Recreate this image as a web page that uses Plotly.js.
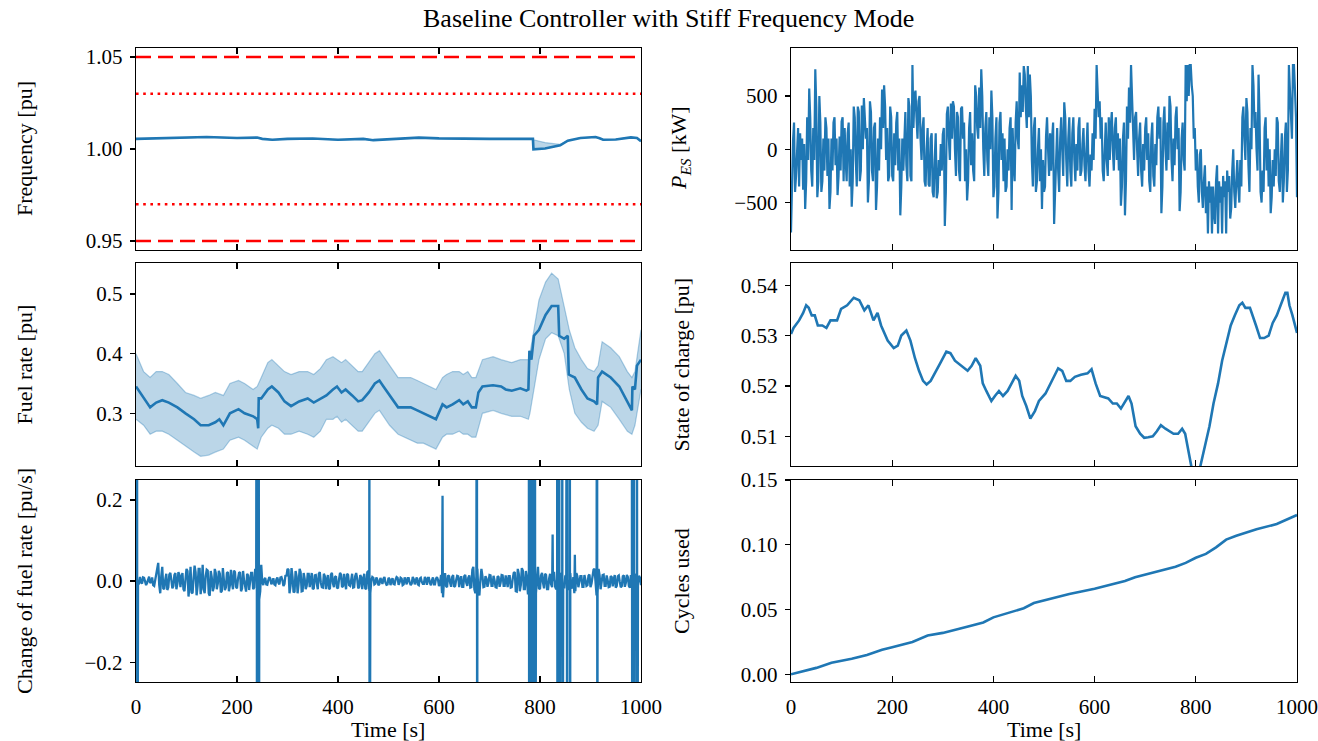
<!DOCTYPE html>
<html><head><meta charset="utf-8">
<script src="https://cdn.plot.ly/plotly-3.0.1.min.js"></script>
<style>html,body{margin:0;padding:0;background:#fff;} #chart{width:1318px;height:741px;}</style>
</head><body><div id="chart"></div>
<script>
// ---------------- DATA ----------------
// Frequency [pu]
const freqT = [0,50,100,140,200,240,250,270,300,350,400,450,470,520,560,600,650,700,750,780,786,787,810,840,855,880,910,918,925,950,980,992,1000];
const freqVal = [1.0055,1.0058,1.006,1.0065,1.006,1.0062,1.0055,1.005,1.0055,1.0057,1.005,1.0055,1.0048,1.0058,1.0062,1.0058,1.0055,1.0055,1.0055,1.0056,1.0055,0.9998,1.0003,1.002,1.0045,1.006,1.0065,1.0058,1.005,1.0052,1.0063,1.006,1.0042];
const freqBandHi = [1.0055,1.0058,1.006,1.0065,1.006,1.0062,1.0055,1.005,1.0055,1.0057,1.005,1.0055,1.0048,1.0058,1.0062,1.0058,1.0055,1.0055,1.0055,1.0056,1.0055,1.005,1.0035,1.0025,1.0045,1.006,1.0065,1.0058,1.005,1.0052,1.0063,1.006,1.0042];
const freqLimits = [0.95, 1.05];      // dashed
const freqSoftLimits = [0.97, 1.03];  // dotted

// P_ES [kW]: samples at t = 0,4,8,...,1000 and in-between samples at t = 2,6,...,998
const pesStep = 4;
const pesVal = [
-780,80,-400,60,-350,-100,-380,-560,300,570,-200,200,750,-450,500,-400,100,300,-250,-560,
100,250,-150,-430,120,260,-300,-100,150,-350,-540,400,-100,400,-300,410,480,100,-500,450,
-200,200,-570,100,300,560,600,-100,-300,400,-250,150,250,-200,-620,100,200,-150,480,-250,
790,500,300,450,100,200,-300,0,-330,100,-400,-100,-460,-100,50,140,-720,330,100,430,
450,0,350,-200,380,100,-300,-480,200,-150,-200,600,200,580,750,0,200,-100,300,550,
-450,100,-650,250,-100,-300,-400,0,200,-570,-150,250,100,720,600,780,400,780,700,-100,
200,-400,0,-300,-560,-400,120,0,150,100,-700,-100,-200,100,0,440,-100,100,-200,150,
-100,50,200,-250,50,-150,0,-200,-50,150,380,790,300,100,-200,100,-100,300,220,0,
200,-100,-200,-530,100,-620,400,580,790,200,300,0,100,-200,50,200,-100,-300,100,-250,
50,300,100,-600,250,0,250,500,-100,100,300,0,-580,100,-100,790,790,790,600,100,
-200,-350,-50,-400,-300,-600,-790,-500,-790,-600,-300,-790,-500,-790,-450,-790,-400,-650,-200,-400,
-300,-350,-100,300,100,480,-150,200,790,200,0,700,-400,-200,200,-200,-350,-600,-100,0,
300,-300,-100,-500,100,-400,790,300,790,550,-450];
const pesMid = [
-150,250,-250,200,150,100,50,-300,-100,300,-350,-100,400,-300,250,-300,-200,200,100,-400,
-200,300,100,-250,-200,300,200,-300,250,0,-300,300,-350,350,-200,0,300,200,-300,350,
-300,250,-350,-200,0,200,400,200,-250,300,-300,-150,350,100,-350,-200,350,-300,400,-300,
200,550,100,500,-100,300,-350,200,-350,150,-450,150,-400,-250,-200,200,-400,400,-100,100,
400,-250,300,-300,400,250,0,-300,350,150,-300,500,100,200,500,-250,350,-250,0,300,
-350,300,-400,350,150,100,-350,-200,300,200,-300,450,0,300,350,700,200,300,500,-350,
300,-300,200,0,-100,-350,300,-250,-200,250,-450,200,-400,300,-250,300,-350,300,-350,300,
-300,-200,300,-200,200,-300,250,-350,-200,-100,100,600,450,300,-300,250,-250,-100,350,-200,
300,150,100,-350,250,-300,100,250,550,-100,350,-250,250,-350,-200,300,150,-400,250,-350,
-150,400,300,-350,400,-200,-100,400,-300,-150,400,200,-400,250,-200,450,500,790,500,200,
0,-500,0,-550,-150,-350,-300,-350,-350,-700,-150,-300,-350,-250,-300,-200,-250,-550,0,-550,
-100,-500,-350,400,-100,350,-400,0,600,350,-200,300,-500,-400,300,100,0,-450,-350,-250,
250,-400,150,-300,250,-200,600,100,790,300];

// Fuel rate [pu]: mean and band
const fuelT = [0,15,28,40,52,65,82,98,115,128,144,157,165,173,186,203,215,232,240,242,243,248,261,269,282,294,307,323,340,352,365,377,390,398,407,415,428,440,448,461,473,482,490,502,519,532,544,557,569,594,607,615,627,640,648,657,665,673,678,686,707,723,732,744,761,773,777,779,783,788,798,811,823,836,838,848,855,857,869,882,894,907,913,915,923,940,957,973,982,983,988,992,1000];
const fuelMean = [0.345,0.325,0.31,0.318,0.322,0.318,0.31,0.30,0.29,0.28,0.28,0.285,0.29,0.28,0.30,0.307,0.30,0.295,0.29,0.275,0.325,0.325,0.34,0.345,0.335,0.32,0.312,0.32,0.325,0.318,0.325,0.33,0.34,0.345,0.335,0.34,0.33,0.32,0.322,0.335,0.35,0.355,0.345,0.33,0.31,0.31,0.31,0.305,0.30,0.29,0.315,0.31,0.315,0.322,0.315,0.32,0.31,0.31,0.335,0.345,0.347,0.345,0.34,0.338,0.342,0.338,0.34,0.405,0.39,0.43,0.44,0.465,0.48,0.48,0.43,0.425,0.43,0.365,0.36,0.34,0.325,0.32,0.315,0.36,0.37,0.36,0.345,0.32,0.305,0.345,0.34,0.38,0.39];
const bandT = [0,15,28,40,52,65,82,98,115,128,144,157,173,186,203,215,232,240,248,261,269,282,294,307,323,340,352,365,377,390,398,407,415,428,440,448,461,473,482,490,502,519,532,544,557,569,594,607,615,627,640,648,657,665,673,686,707,723,744,761,777,780,788,798,811,823,836,848,858,869,882,894,907,915,923,940,957,973,982,988,1000];
const bandHi = [0.40,0.37,0.36,0.37,0.37,0.365,0.35,0.335,0.33,0.325,0.33,0.335,0.33,0.35,0.355,0.35,0.34,0.345,0.36,0.385,0.39,0.38,0.37,0.365,0.37,0.37,0.365,0.375,0.39,0.395,0.39,0.385,0.39,0.38,0.37,0.37,0.385,0.40,0.405,0.395,0.38,0.36,0.36,0.36,0.355,0.35,0.34,0.36,0.365,0.37,0.37,0.365,0.37,0.36,0.36,0.39,0.395,0.39,0.385,0.39,0.39,0.40,0.44,0.49,0.52,0.535,0.525,0.48,0.44,0.41,0.39,0.375,0.37,0.38,0.42,0.41,0.395,0.37,0.36,0.37,0.44];
const bandLo = [0.29,0.28,0.265,0.27,0.27,0.265,0.255,0.245,0.235,0.228,0.23,0.235,0.24,0.255,0.26,0.255,0.245,0.24,0.26,0.275,0.28,0.275,0.265,0.265,0.27,0.265,0.26,0.27,0.29,0.29,0.295,0.285,0.29,0.28,0.27,0.27,0.285,0.30,0.305,0.295,0.28,0.265,0.26,0.255,0.25,0.25,0.24,0.26,0.265,0.265,0.27,0.265,0.265,0.26,0.26,0.30,0.305,0.30,0.295,0.295,0.29,0.30,0.34,0.39,0.425,0.435,0.43,0.40,0.34,0.30,0.285,0.275,0.27,0.28,0.32,0.31,0.29,0.27,0.265,0.28,0.34];

// State of charge [pu]
const socT = [0,5,16,24,30,35,41,47,53,62,70,78,91,99,111,124,135,145,153,163,171,178,191,203,211,218,228,236,245,253,261,268,276,286,295,307,315,324,336,349,357,365,374,379,386,396,403,411,419,428,436,444,451,457,465,473,482,490,503,515,528,536,544,552,561,573,586,594,602,611,619,627,636,644,652,661,667,673,681,690,698,706,715,723,731,740,748,756,765,773,779,784,790,795,802,809,819,827,835,844,852,861,869,877,886,892,898,907,913,919,927,935,944,952,960,968,977,981,985,991,996,1000];
const socVal = [0.5303,0.5315,0.533,0.5345,0.536,0.5355,0.534,0.534,0.532,0.532,0.5315,0.533,0.533,0.5353,0.536,0.5375,0.537,0.535,0.536,0.533,0.5345,0.532,0.529,0.5275,0.528,0.53,0.531,0.529,0.5255,0.523,0.521,0.5203,0.521,0.523,0.5245,0.5268,0.5265,0.525,0.524,0.523,0.524,0.5255,0.524,0.5205,0.519,0.517,0.518,0.519,0.518,0.519,0.5205,0.522,0.521,0.518,0.516,0.5135,0.515,0.517,0.5185,0.521,0.5235,0.523,0.521,0.521,0.5218,0.5222,0.5225,0.5233,0.5205,0.518,0.5178,0.5175,0.5165,0.5165,0.5155,0.517,0.518,0.5165,0.512,0.5105,0.5097,0.5098,0.510,0.511,0.5122,0.5115,0.511,0.5105,0.5105,0.5115,0.5105,0.508,0.505,0.502,0.501,0.504,0.508,0.512,0.5165,0.5205,0.525,0.529,0.532,0.534,0.536,0.5365,0.5355,0.5355,0.5335,0.532,0.5295,0.5295,0.530,0.5325,0.534,0.536,0.5385,0.5385,0.536,0.534,0.532,0.5305];

// Change of fuel rate [pu/s]: samples at t = 0,4,...,1000, in-between samples at t = 2,6,...,998, plus spikes
const dfStep = 4;
const dfNoise = [
0.005,-0.008,0.01,-0.006,0.008,-0.01,0.006,-0.005,0.009,-0.012,0.02,
0.045,-0.03,0.035,
-0.02,0.018,-0.015,0.02,-0.018,0.015,-0.02,0.022,-0.015,0.02,-0.025,
0.03,-0.038,0.035,-0.03,0.038,-0.035,0.03,-0.032,0.04,-0.03,0.028,-0.03,0.025,
-0.025,0.03,-0.02,0.025,-0.028,0.032,-0.022,0.02,-0.025,0.028,-0.02,0.022,-0.018,0.02,-0.025,0.025,-0.02,0.018,-0.022,0.02,-0.02,0.03,
0.05,-0.045,0.04,
-0.01,0.008,-0.009,0.01,-0.008,0.007,-0.01,0.009,-0.008,0.01,-0.012,0.015,
0.03,-0.03,0.032,-0.028,0.025,-0.03,0.03,-0.025,0.02,
-0.02,0.018,-0.015,0.02,-0.018,0.015,-0.02,0.022,-0.015,0.018,-0.02,0.015,-0.018,0.02,-0.015,0.012,-0.018,0.02,-0.015,0.018,-0.02,0.015,-0.012,0.018,-0.015,0.02,-0.018,0.015,-0.02,0.018,-0.02,0.025,
-0.03,
0.01,-0.008,0.009,-0.01,0.008,-0.007,0.01,-0.009,0.008,-0.01,0.007,-0.008,0.01,-0.009,0.008,-0.01,0.009,-0.008,0.007,-0.01,0.01,-0.008,0.009,-0.01,0.008,-0.007,0.01,-0.009,0.008,-0.01,0.009,-0.008,0.01,-0.012,
0.015,-0.04,0.02,
-0.015,0.012,-0.014,0.015,-0.012,0.013,-0.015,0.012,-0.014,0.015,-0.012,0.014,-0.015,
0.035,-0.03,0.03,-0.035,0.03,
-0.015,0.012,-0.014,0.015,-0.012,0.013,-0.015,0.012,-0.014,0.015,-0.012,0.014,-0.015,0.012,-0.015,0.02,
-0.025,0.03,-0.025,0.032,-0.02,0.025,
-0.03,0.04,-0.035,0.03,-0.03,0.035,-0.02,
0.02,-0.018,0.015,-0.02,0.018,-0.015,0.02,-0.02,0.018,-0.015,0.02,-0.018,0.015,-0.02,0.02,-0.018,
-0.03,0.02,
-0.015,0.012,-0.014,0.015,-0.012,0.013,-0.015,0.018,
0.03,-0.035,0.03,-0.02,
0.015,-0.012,0.014,-0.015,0.012,-0.013,0.015,-0.012,0.014,-0.015,0.012,-0.014,0.015,-0.012,0.015,-0.014,0.015,-0.012,0.013,-0.01];
const dfMid = [
0.002,-0.006,-0.003,0.009,0.001,-0.004,0.011,-0.002,-0.01,0.004,
0.038,-0.01,0.012,-0.018,0.004,-0.022,0.016,0.003,-0.012,0.02,
-0.006,0.015,0.01,-0.02,0.004,0.025,-0.01,-0.028,0.006,0.022,
-0.012,0.03,-0.008,-0.02,0.012,0.026,-0.036,0.01,-0.016,0.02,
-0.006,0.018,-0.024,0.004,-0.016,0.022,-0.01,-0.004,0.026,-0.014,
0.006,0.022,-0.018,0.002,-0.026,0.014,-0.006,0.02,-0.016,0.01,
0.03,-0.025,-0.002,0.004,-0.008,0.002,0.006,-0.003,-0.008,0.004,
-0.004,0.009,0.002,-0.007,0.012,0.028,-0.012,0.01,-0.026,0.012,
-0.006,0.022,-0.024,0.006,-0.012,0.018,0.003,-0.02,0.014,-0.006,
0.018,-0.004,-0.016,0.012,0.002,-0.02,0.016,-0.006,0.01,-0.016,
0.004,0.016,-0.012,-0.004,0.018,-0.01,0.002,-0.016,0.012,0.006,
-0.014,0.01,0.004,-0.018,0.022,-0.024,0.002,0.008,-0.006,0.003,
-0.007,0.002,0.006,-0.004,-0.008,0.005,0.001,-0.007,0.004,0.008,
-0.003,0.006,-0.008,0.002,0.007,-0.004,-0.006,0.005,0.002,-0.008,
0.006,-0.002,-0.007,0.004,0.008,-0.005,0.002,-0.008,0.006,0.003,
-0.006,-0.03,0.006,-0.012,0.014,-0.004,0.01,-0.014,0.003,0.012,
0.004,-0.014,0.012,-0.004,0.008,-0.016,0.028,-0.02,0.012,-0.028,
0.004,0.012,-0.014,0.006,-0.004,0.014,-0.012,0.002,-0.016,0.01,
-0.004,0.014,-0.012,0.002,0.012,-0.016,0.006,0.022,-0.026,0.018,
-0.01,0.026,-0.02,0.01,-0.03,0.02,0.036,-0.028,0.01,-0.018,
0.014,-0.004,0.018,-0.02,0.006,-0.008,0.02,-0.014,0.004,-0.016,
0.018,-0.006,0.012,-0.02,0.004,-0.014,0.01,-0.025,0.012,-0.004,
0.012,-0.014,0.003,-0.01,0.016,-0.006,0.028,-0.018,-0.03,0.014,
-0.004,0.016,-0.012,0.002,-0.014,0.01,0.004,-0.016,0.012,-0.002,
-0.012,0.014,-0.004,0.01,-0.016,0.006,-0.01,0.016,-0.006,0.008];
const spikeT  = [2, 239, 243, 462, 607, 675, 778, 781, 784, 787, 790, 825, 834, 838, 844, 853, 859, 869, 913, 982, 986, 992];
const spikeHi = [1, 1, 1, 1, 0.21, 1, 1, 1, 1, 1, 1, 0.115, 1, 1, 1, 1, 1, 0.065, 1, 1, 1, 1];
const spikeLo = [-1, -1, -1, -1, -0.01, -1, -1, -1, -1, -1, -1, 0.0, -1, -1, -1, -1, -1, -0.01, -1, -1, -1, -1];

// Cycles used
const cycT = [0,50,80,120,150,180,200,240,270,300,350,380,400,440,460,480,520,550,600,620,660,680,720,760,780,800,820,840,860,880,920,940,960,1000];
const cycVal = [0,0.005,0.009,0.012,0.015,0.019,0.021,0.025,0.030,0.032,0.037,0.040,0.044,0.049,0.051,0.055,0.059,0.062,0.066,0.068,0.072,0.075,0.079,0.083,0.086,0.090,0.093,0.098,0.104,0.107,0.112,0.114,0.116,0.123];

const xTicks = [0,200,400,600,800,1000];

// ---------------- BUILD ----------------
const BLUE = '#1f77b4';
const FONT = 'Liberation Serif, Times New Roman, serif';

function interleave(main, mid, step) {
  const pts = main.map((v, i) => [i * step, v]);
  mid.forEach((v, i) => pts.push([i * step + step / 2, v]));
  pts.sort((a, b) => a[0] - b[0]);
  return pts;
}
const pesPts = interleave(pesVal, pesMid, pesStep);
const pesT = pesPts.map(p => p[0]), pesY = pesPts.map(p => p[1]);

let dfPts = interleave(dfNoise, dfMid, dfStep);
spikeT.forEach((t, k) => { dfPts.push([t, spikeHi[k]]); dfPts.push([t + 0.6, spikeLo[k]]); });
dfPts.sort((a, b) => a[0] - b[0]);
const dfT = dfPts.map(p => p[0]), dfV = dfPts.map(p => p[1]);

const line = (x, y, xa, ya, extra) => Object.assign({x, y, xaxis: xa, yaxis: ya, type: 'scatter', mode: 'lines',
  line: {color: BLUE, width: 2.6}, hoverinfo: 'skip', showlegend: false}, extra || {});

const traces = [];
// frequency
traces.push(line(freqT, freqVal, 'x', 'y', {line: {color: 'rgba(31,119,180,0.35)', width: 1.2}}));
traces.push(line(freqT, freqBandHi, 'x', 'y', {fill: 'tonexty', fillcolor: 'rgba(31,119,180,0.3)', line: {color: 'rgba(31,119,180,0.35)', width: 1.2}}));
traces.push(line(freqT, freqVal, 'x', 'y'));
freqLimits.forEach(v => traces.push(line([0, 1000], [v, v], 'x', 'y', {line: {color: '#ff0000', width: 2.6, dash: '15px,7px'}})));
freqSoftLimits.forEach(v => traces.push(line([0, 1000], [v, v], 'x', 'y', {line: {color: '#ff0000', width: 2.6, dash: '2.6px,4.6px'}})));
// P_ES
traces.push(line(pesT, pesY, 'x2', 'y2', {line: {color: BLUE, width: 2.2}}));
// fuel rate
traces.push(line(bandT, bandLo, 'x3', 'y3', {line: {color: 'rgba(31,119,180,0.35)', width: 1.2}}));
traces.push(line(bandT, bandHi, 'x3', 'y3', {fill: 'tonexty', fillcolor: 'rgba(31,119,180,0.3)', line: {color: 'rgba(31,119,180,0.35)', width: 1.2}}));
traces.push(line(fuelT, fuelMean, 'x3', 'y3'));
// SOC
traces.push(line(socT, socVal, 'x4', 'y4'));
// change of fuel rate
traces.push(line(dfT, dfV, 'x5', 'y5', {line: {color: BLUE, width: 2.3}}));
// cycles
traces.push(line(cycT, cycVal, 'x6', 'y6'));

const W = 1318, H = 741;
const colX = [[136 / W, 641 / W], [791 / W, 1297 / W]];
const rowY = [[1 - 250 / H, 1 - 48 / H], [1 - 466 / H, 1 - 263 / H], [1 - 682 / H, 1 - 480 / H]];
const tickFont = {family: FONT, size: 21, color: '#000'};

function xAxis(col, row, yname, labels) {
  return {domain: colX[col], anchor: yname, range: [0, 1000], tickvals: xTicks, showticklabels: labels,
    ticks: 'inside', ticklen: 6, tickwidth: 1.2, tickcolor: '#000', showline: true, mirror: 'ticks',
    linecolor: '#000', linewidth: 1.3, showgrid: false, zeroline: false, tickfont: tickFont, ticklabelstandoff: 5, fixedrange: true};
}
function yAxis(col, row, xname, range, tickvals, fmt) {
  return {domain: rowY[row], anchor: xname, range: range, tickvals: tickvals, tickformat: fmt,
    ticks: 'outside', ticklen: 5, tickwidth: 1.2, tickcolor: '#000', showline: true, mirror: true,
    linecolor: '#000', linewidth: 1.3, showgrid: false, zeroline: false, tickfont: tickFont, ticklabelstandoff: 3, fixedrange: true};
}

const ann = (text, x, y, angle, size) => ({text, x, y, xref: 'paper', yref: 'paper', showarrow: false,
  textangle: angle, xanchor: 'center', yanchor: 'middle', font: {family: FONT, size: size || 22, color: '#000'}});
const rowMid = r => (rowY[r][0] + rowY[r][1]) / 2;

const layout = {
  width: W, height: H, margin: {l: 0, r: 0, t: 0, b: 0}, paper_bgcolor: '#fff', plot_bgcolor: '#fff',
  showlegend: false,
  xaxis: xAxis(0, 0, 'y', false), yaxis: yAxis(0, 0, 'x', [0.9451, 1.0549], [0.95, 1.0, 1.05], '.2f'),
  xaxis2: xAxis(1, 0, 'y2', false), yaxis2: yAxis(1, 0, 'x2', [-945, 950], [-500, 0, 500], 'd'),
  xaxis3: xAxis(0, 1, 'y3', false), yaxis3: yAxis(0, 1, 'x3', [0.2117, 0.552], [0.3, 0.4, 0.5], '.1f'),
  xaxis4: xAxis(1, 1, 'y4', false), yaxis4: yAxis(1, 1, 'x4', [0.5041, 0.5444], [0.51, 0.52, 0.53, 0.54], '.2f'),
  xaxis5: xAxis(0, 2, 'y5', true), yaxis5: yAxis(0, 2, 'x5', [-0.2485, 0.249], [-0.2, 0.0, 0.2], '.1f'),
  xaxis6: xAxis(1, 2, 'y6', true), yaxis6: yAxis(1, 2, 'x6', [-0.0059, 0.15], [0, 0.05, 0.10, 0.15], '.2f'),
  annotations: [
    ann('Baseline Controller with Stiff Frequency Mode', 668 / W, 1 - 18 / H, 0, 26),
    ann('Frequency [pu]', 24 / W, rowMid(0), -90),
    ann('Fuel rate [pu]', 24 / W, rowMid(1), -90),
    ann('Change of fuel rate [pu/s]', 24 / W, rowMid(2), -90),
    ann('<i>P</i><sub><i>ES</i></sub> [kW]', 680 / W, rowMid(0), -90),
    ann('State of charge [pu]', 681 / W, rowMid(1), -90),
    ann('Cycles used', 681 / W, rowMid(2), -90),
    ann('Time [s]', 388 / W, 1 - 729 / H, 0),
    ann('Time [s]', 1044 / W, 1 - 729 / H, 0)
  ]
};

Plotly.newPlot('chart', traces, layout, {staticPlot: true, displayModeBar: false});
</script></body></html>
